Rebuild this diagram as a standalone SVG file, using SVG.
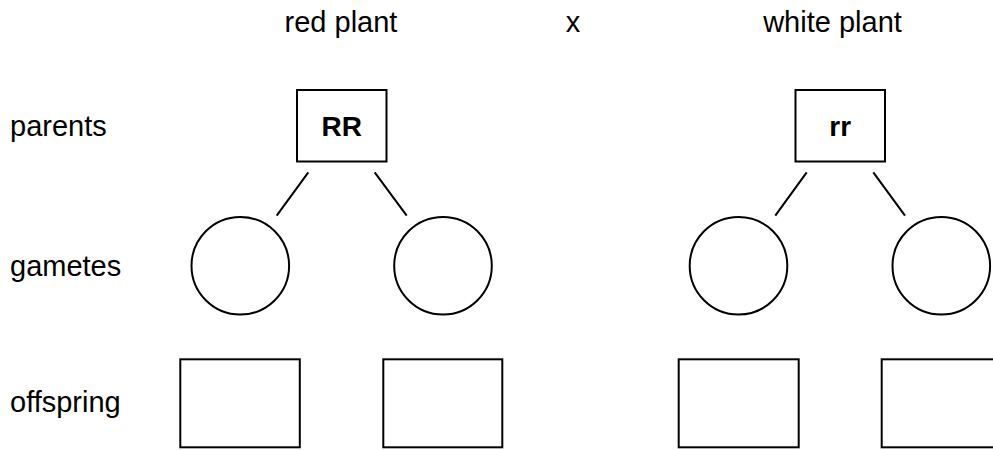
<svg xmlns="http://www.w3.org/2000/svg" width="993" height="450" viewBox="0 0 993 450">
<style>
text{font-family:"Liberation Sans",Arial,sans-serif;font-size:29px;fill:#000}
.b{font-weight:bold;font-size:28px;text-anchor:middle}
.m{text-anchor:middle}
.s{fill:#fff;stroke:#000;stroke-width:2}
.c line{stroke:#000;stroke-width:2}
</style>
<rect width="993" height="450" fill="#fff"/>
<g id="headers">
<text x="341" y="32" class="m">red plant</text>
<text x="573" y="32" class="m">x</text>
<text x="832.5" y="32" class="m">white plant</text>
</g>
<g id="row-labels">
<text x="10" y="136">parents</text>
<text x="10" y="276">gametes</text>
<text x="10" y="412">offspring</text>
</g>
<g id="connectors" class="c">
<line x1="308.3" y1="172.3" x2="276.7" y2="215.7"/>
<line x1="374.7" y1="172.3" x2="406.7" y2="215.7"/>
<line x1="806.7" y1="172.3" x2="775.3" y2="215.7"/>
<line x1="873.3" y1="172.3" x2="905" y2="215.7"/>
</g>
<g id="parent-RR"><rect class="s" x="297" y="90" width="89.5" height="71.5"/><text x="341.7" y="136" class="b">RR</text></g>
<g id="parent-rr"><rect class="s" x="795.5" y="90" width="89.5" height="71.5"/><text x="840.2" y="136" class="b">rr</text></g>
<g id="gamete-1"><circle class="s" cx="240.3" cy="265.8" r="48.8"/></g>
<g id="gamete-2"><circle class="s" cx="443" cy="265.8" r="48.8"/></g>
<g id="gamete-3"><circle class="s" cx="738.5" cy="265.8" r="48.8"/></g>
<g id="gamete-4"><circle class="s" cx="941.3" cy="265.8" r="48.8"/></g>
<g id="offspring-1"><rect class="s" x="180.3" y="359.3" width="119.5" height="88"/></g>
<g id="offspring-2"><rect class="s" x="383.3" y="359.3" width="119" height="88"/></g>
<g id="offspring-3"><rect class="s" x="678.7" y="359.3" width="120" height="88"/></g>
<g id="offspring-4"><rect class="s" x="881.7" y="359.3" width="120" height="88"/></g>
</svg>
